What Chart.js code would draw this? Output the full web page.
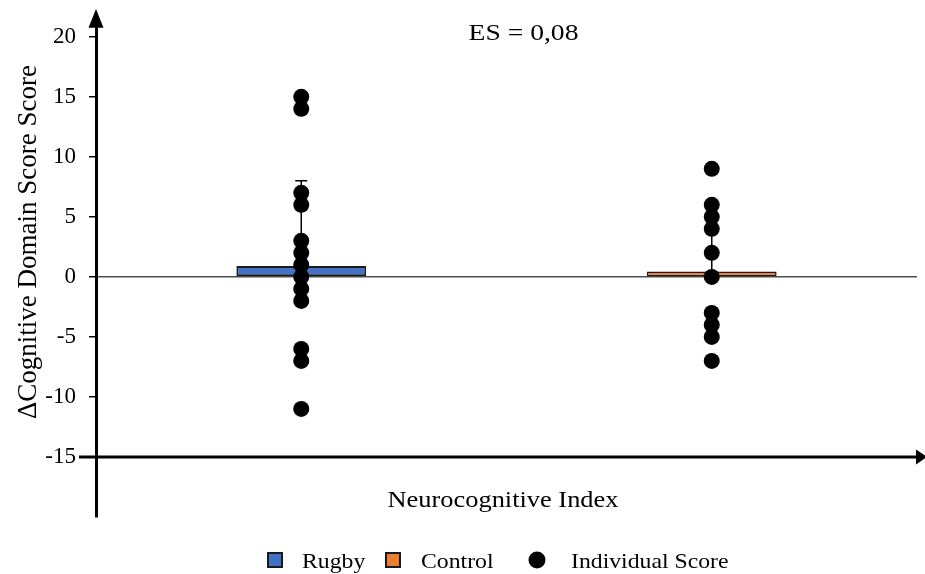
<!DOCTYPE html>
<html>
<head>
<meta charset="utf-8">
<script src="https://cdn.jsdelivr.net/npm/chart.js@4"></script>
<style>
  html, body { margin: 0; padding: 0; background: #ffffff; }
  #wrap { width: 925px; height: 574px; }
</style>
</head>
<body>
<div id="wrap"><canvas id="chart" width="925" height="574"></canvas></div>
<script>
// Groups on the category axis
const groups = ['Rugby', 'Control'];

// Mean change per group (bar height) and upper end of the error whisker
const groupMeans = [0.9, 0.45];
const errorUpper = [8, 5];

// Individual change scores
const rugbyScores = [15, 14, 7, 6, 3, 2, 1, 0, -1, -2, -6, -7, -11];
const controlScores = [9, 6, 5, 4, 2, 0, -3, -4, -5, -7];

// Y axis ticks and their labels
const yTickValues = [-15, -10, -5, 0, 5, 10, 15, 20];
const yTickLabels = ['-15', '-10', '-5', '0', '5', '10', '15', '20'];

// Text
const effectSizeText = 'ES = 0,08';
const xTitleText = 'Neurocognitive Index';
const yTitleText = '\u0394Cognitive Domain Score Score';
const legendLabels = ['Rugby', 'Control', 'Individual Score'];

const barColors = ['#4472C4', '#ED7D31'];
const SERIF = "'Liberation Serif', 'Times New Roman', serif";

const pointData = [
  ...rugbyScores.map(v => ({ x: groups[0], y: v })),
  ...controlScores.map(v => ({ x: groups[1], y: v }))
];

function stretchedText(ctx, text, x, y, size, sx, align) {
  ctx.save();
  ctx.font = size + 'px ' + SERIF;
  ctx.fillStyle = '#000';
  ctx.textBaseline = 'alphabetic';
  ctx.translate(x, y);
  ctx.scale(sx, 1);
  ctx.textAlign = align;
  ctx.fillText(text, 0, 0);
  ctx.restore();
}

const decorations = {
  id: 'decorations',
  afterDatasetDraw(chart, args) {
    if (args.meta.type !== 'bar') return;
    const i = args.index;
    const y = chart.scales.y;
    const el = args.meta.data[i];
    if (!el) return;
    const ctx = chart.ctx;
    const x = el.x;
    const yTop = y.getPixelForValue(errorUpper[i]);
    const yBase = y.getPixelForValue(groupMeans[i]);
    ctx.save();
    ctx.strokeStyle = '#000';
    ctx.lineWidth = 1.5;
    ctx.beginPath();
    ctx.moveTo(x, yBase);
    ctx.lineTo(x, yTop);
    ctx.moveTo(x - 6, yTop);
    ctx.lineTo(x + 6, yTop);
    ctx.stroke();
    ctx.restore();
  },
  afterDraw(chart) {
    const ctx = chart.ctx;
    const area = chart.chartArea;
    const y = chart.scales.y;
    const axisX = area.left;

    ctx.save();
    ctx.fillStyle = '#000';
    ctx.strokeStyle = '#000';

    // arrowhead on the vertical axis
    ctx.beginPath();
    ctx.moveTo(axisX, 9);
    ctx.lineTo(axisX - 7.5, area.top + 1);
    ctx.lineTo(axisX + 7.5, area.top + 1);
    ctx.closePath();
    ctx.fill();

    // horizontal axis crossing at -15, with arrowhead
    const yAxisLine = y.getPixelForValue(-15);
    ctx.lineWidth = 3;
    ctx.beginPath();
    ctx.moveTo(79, yAxisLine);
    ctx.lineTo(918, yAxisLine);
    ctx.stroke();
    ctx.beginPath();
    ctx.moveTo(927, yAxisLine);
    ctx.lineTo(916, yAxisLine - 7.5);
    ctx.lineTo(916, yAxisLine + 7.5);
    ctx.closePath();
    ctx.fill();
    ctx.restore();

    // effect size and axis titles
    stretchedText(ctx, effectSizeText, 523.5, 40, 24, 1.15, 'center');
    stretchedText(ctx, xTitleText, 503, 507, 24, 1.1, 'center');

    ctx.save();
    ctx.font = '27px ' + SERIF;
    ctx.fillStyle = '#000';
    ctx.textAlign = 'center';
    ctx.textBaseline = 'alphabetic';
    ctx.translate(36, 242);
    ctx.rotate(-Math.PI / 2);
    ctx.fillText(yTitleText, 0, 0);
    ctx.restore();

    // legend
    const ly = 560;
    ctx.save();
    ctx.lineWidth = 2;
    ctx.strokeStyle = '#1a1a1a';
    [[275, barColors[0]], [393, barColors[1]]].forEach(([cx, col]) => {
      ctx.fillStyle = col;
      ctx.fillRect(cx - 7, ly - 7, 14, 14);
      ctx.strokeRect(cx - 7, ly - 7, 14, 14);
    });
    ctx.fillStyle = '#000';
    ctx.beginPath();
    ctx.arc(537, ly, 8.5, 0, Math.PI * 2);
    ctx.fill();
    ctx.restore();
    stretchedText(ctx, legendLabels[0], 302, 568, 21, 1.13, 'left');
    stretchedText(ctx, legendLabels[1], 421, 568, 21, 1.13, 'left');
    stretchedText(ctx, legendLabels[2], 571, 568, 21, 1.13, 'left');
  }
};

new Chart(document.getElementById('chart'), {
  data: {
    labels: groups,
    datasets: [
      {
        type: 'bar',
        label: legendLabels[0],
        data: [groupMeans[0], null],
        backgroundColor: barColors[0],
        borderColor: '#1a1a1a',
        borderWidth: 1.8,
        borderSkipped: false,
        grouped: false,
        order: 1
      },
      {
        type: 'bar',
        label: legendLabels[1],
        data: [null, groupMeans[1]],
        backgroundColor: barColors[1],
        borderColor: '#1a1a1a',
        borderWidth: 1.5,
        borderSkipped: false,
        grouped: false,
        order: 1
      },
      {
        type: 'line',
        label: legendLabels[2],
        data: pointData,
        showLine: false,
        pointRadius: 8,
        pointHoverRadius: 8,
        pointBackgroundColor: '#000',
        pointBorderWidth: 0,
        order: 0
      }
    ]
  },
  options: {
    responsive: false,
    animation: false,
    devicePixelRatio: 1,
    layout: { padding: { top: 25, right: 6, bottom: 57, left: 0 } },
    datasets: {
      bar: { barPercentage: 0.316, categoryPercentage: 1 }
    },
    plugins: {
      legend: { display: false },
      tooltip: { enabled: false },
      title: { display: false }
    },
    scales: {
      x: {
        type: 'category',
        display: false
      },
      y: {
        type: 'linear',
        min: -20,
        max: 20.83,
        afterBuildTicks(scale) {
          scale.ticks = yTickValues.map(v => ({ value: v }));
        },
        afterFit(scale) {
          scale.width = 96;
        },
        ticks: {
          padding: 13,
          color: '#000',
          font: { family: SERIF, size: 23 },
          callback(value) {
            const k = yTickValues.indexOf(value);
            return k >= 0 ? yTickLabels[k] : '';
          }
        },
        grid: {
          drawTicks: true,
          tickLength: 7,
          tickColor: '#000',
          tickWidth: 1.5,
          lineWidth: 1.5,
          color(c) {
            return c.tick && c.tick.value === 0 ? '#4d4d4d' : 'rgba(0,0,0,0)';
          }
        },
        border: { display: true, color: '#000', width: 3 }
      }
    }
  },
  plugins: [decorations]
});
</script>
</body>
</html>
